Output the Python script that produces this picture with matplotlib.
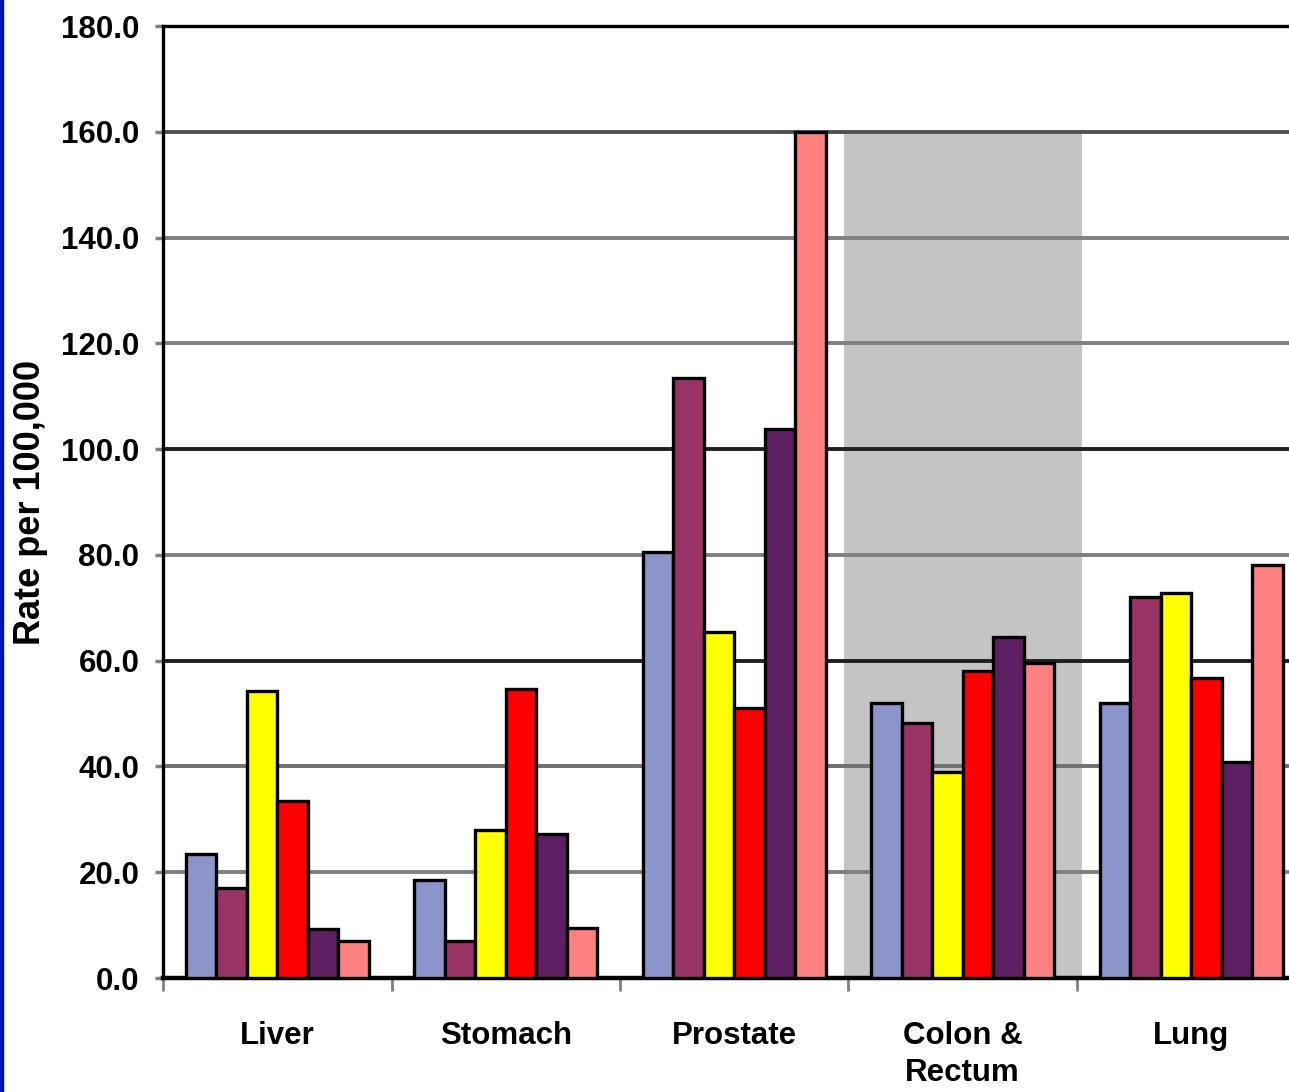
import numpy as np
import matplotlib.pyplot as plt
from matplotlib.patches import Rectangle

# Datos (tasa por 100,000)
categorias = ['Liver', 'Stomach', 'Prostate', 'Colon &\nRectum', 'Lung']
serie_1 = [23.5, 18.5, 80.5, 52.0, 52.0]
serie_2 = [17.0, 7.0, 113.5, 48.3, 72.0]
serie_3 = [54.3, 28.0, 65.5, 39.0, 72.8]
serie_4 = [33.5, 54.7, 51.0, 58.0, 56.7]
serie_5 = [9.2, 27.2, 103.8, 64.5, 40.8]
serie_6 = [7.0, 9.5, 160.0, 59.5, 78.0]
y_ticks = [0, 20, 40, 60, 80, 100, 120, 140, 160, 180]

series = [serie_1, serie_2, serie_3, serie_4, serie_5, serie_6]
colores = ['#8C94CC', '#993366', '#FFFF00', '#FF0000', '#5E1F62', '#FF8080']

# colores de las lineas de la rejilla (algunas mas oscuras, como en el original)
color_rejilla = {20: '#808080', 40: '#707070', 60: '#202020', 80: '#808080',
                 100: '#202020', 120: '#808080', 140: '#808080', 160: '#505050'}

fuente = ['Liberation Sans', 'DejaVu Sans']

fig = plt.figure(figsize=(12.89, 10.92), dpi=100)
fig.patch.set_facecolor('white')

# Borde azul a la izquierda
fig.patches.append(Rectangle((0, 0), 3 / 1289, 1, transform=fig.transFigure,
                             color='#0010B8', zorder=10))

# El eje se sale por la derecha de la figura (como en la captura)
ax = fig.add_axes([163 / 1289, 114 / 1092, 1142.5 / 1289, 952 / 1092])
ax.set_xlim(-0.5, 4.5)
ax.set_ylim(0, 180)

x = np.arange(len(categorias))

# Zona gris detras de Colon & Rectum
ax.axvspan(2.48, 3.52, ymin=0, ymax=160 / 180, color='#C4C4C4', lw=0, zorder=0)

# Rejilla
for v, c in color_rejilla.items():
    ax.axhline(v, color=c, lw=2.8, zorder=1)

# Barras
ancho = 0.8 / len(series)
for i, (vals, col) in enumerate(zip(series, colores)):
    pos = x - 0.4 + ancho * (i + 0.5)
    ax.bar(pos, vals, width=ancho, color=col, edgecolor='black', lw=2.4, zorder=3)

# Ejes y marcas
for lado in ['top', 'left']:
    ax.spines[lado].set_color('black')
    ax.spines[lado].set_linewidth(2.4)
ax.spines['bottom'].set_color('black')
ax.spines['bottom'].set_linewidth(3.2)
ax.spines['right'].set_visible(False)

ax.set_yticks(y_ticks)
ax.set_yticklabels([f"{v:.1f}" for v in y_ticks], family=fuente,
                   fontweight='bold', fontsize=22.5)
ax.tick_params(axis='y', length=6, width=2.5, color='#808080', pad=11)

ax.set_xticks(x)
ax.set_xticklabels(categorias, family=fuente, fontweight='bold',
                   fontsize=22.5, linespacing=1.3, va='top')
ax.tick_params(axis='x', which='major', length=0, pad=31)
ax.set_xticks(np.arange(-0.5, 5.0, 1.0), minor=True)
ax.tick_params(axis='x', which='minor', length=9, width=2, color='#808080')

fig.text(31 / 1289, 1 - 502 / 1092, 'Rate per 100,000', rotation=90,
         ha='center', va='center', family=fuente,
         fontweight='bold', fontsize=26)

fig.savefig('out.png', dpi=100)
